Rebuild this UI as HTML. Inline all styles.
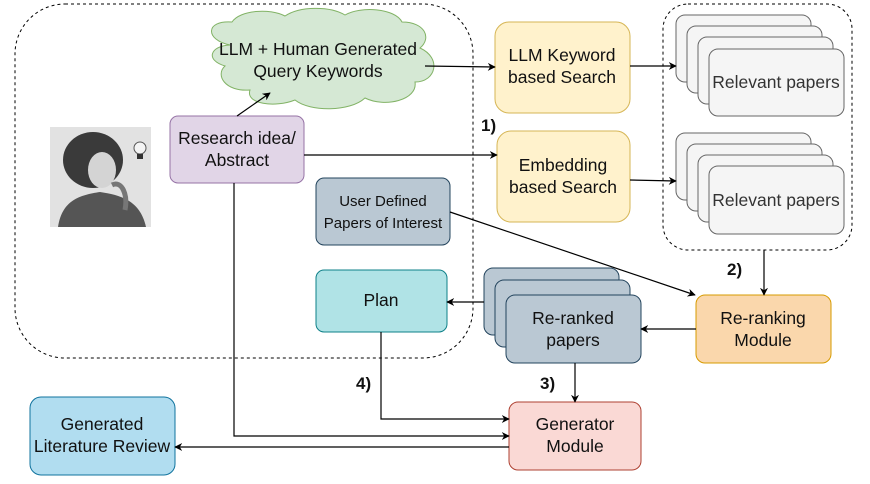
<!DOCTYPE html>
<html><head><meta charset="utf-8"><style>
html,body{margin:0;padding:0;background:#fff}
svg{display:block}
text{font-family:"Liberation Sans",Arial,sans-serif;fill:#111}
</style></head><body>
<svg width="870" height="484" viewBox="0 0 870 484" xmlns="http://www.w3.org/2000/svg">
<defs>
<marker id="a" viewBox="0 0 10 10" refX="9" refY="5" markerWidth="8" markerHeight="8" orient="auto" markerUnits="userSpaceOnUse"><path d="M0,0 L10,5 L0,10 L3,5 z" fill="#000"/></marker>
</defs>
<rect x="15" y="4" width="458" height="354" rx="50" fill="none" stroke="#000" stroke-dasharray="3,3"/>
<rect x="663" y="4" width="189" height="246" rx="25" fill="none" stroke="#000" stroke-dasharray="3,3"/>

<!-- portrait -->
<rect x="50" y="127" width="101" height="100" fill="#e2e2e2"/>
<path d="M58,227 C62,200 80,195 100,192 C120,195 140,200 146,227 Z" fill="#555"/>
<ellipse cx="93" cy="160" rx="30" ry="28" fill="#3a3a3a"/>
<ellipse cx="102" cy="170" rx="14" ry="18" fill="#d4d4d4"/>
<path d="M112,185 C122,180 128,195 125,210" stroke="#777" stroke-width="5" fill="none"/>
<circle cx="140" cy="148" r="6" fill="#f4f4f4" stroke="#555"/>
<rect x="137" y="154" width="6" height="5" fill="#333"/>

<path d="M230,45 C205,40 205,20 232,22 C240,10 270,8 285,16 C300,6 330,6 345,15 C360,6 395,8 402,22 C425,22 432,38 420,48 C442,58 436,82 415,82 C418,100 385,108 365,98 C350,112 310,112 295,100 C275,108 245,104 250,90 C225,92 215,75 225,66 C205,60 210,46 230,45 Z" fill="#d5e8d4" stroke="#82b366"/>
<text x="318" y="55" font-size="17.5" text-anchor="middle">LLM + Human Generated</text>
<text x="318" y="77" font-size="17.5" text-anchor="middle">Query Keywords</text>

<rect x="170" y="116" width="134" height="67" rx="8" fill="#e1d5e7" stroke="#9673a6"/>
<text x="237" y="144" font-size="17.5" text-anchor="middle">Research idea/</text>
<text x="237" y="166" font-size="17.5" text-anchor="middle">Abstract</text>

<rect x="316" y="178" width="134" height="67" rx="8" fill="#bac8d3" stroke="#23445d"/>
<text x="383" y="206" font-size="15" text-anchor="middle">User Defined</text>
<text x="383" y="228" font-size="15" text-anchor="middle">Papers of Interest</text>

<rect x="495" y="22" width="135" height="91" rx="14" fill="#fff2cc" stroke="#d6b656"/>
<text x="562" y="61" font-size="17.5" text-anchor="middle">LLM Keyword</text>
<text x="562" y="83" font-size="17.5" text-anchor="middle">based Search</text>
<rect x="497" y="131" width="133" height="91" rx="14" fill="#fff2cc" stroke="#d6b656"/>
<text x="563" y="171" font-size="17.5" text-anchor="middle">Embedding</text>
<text x="563" y="193" font-size="17.5" text-anchor="middle">based Search</text>
<text x="481" y="131" font-size="17" font-weight="bold">1)</text>

<g fill="#f5f5f5" stroke="#666">
<rect x="676" y="15" width="135" height="67" rx="9"/>
<rect x="687" y="26" width="135" height="67" rx="9"/>
<rect x="698" y="37" width="135" height="67" rx="9"/>
<rect x="709" y="49" width="135" height="67" rx="9"/>
<rect x="676" y="133" width="135" height="67" rx="9"/>
<rect x="687" y="144" width="135" height="67" rx="9"/>
<rect x="698" y="155" width="135" height="67" rx="9"/>
<rect x="709" y="166" width="135" height="68" rx="9"/>
</g>
<text x="776" y="88" font-size="17.5" text-anchor="middle" style="fill:#333">Relevant papers</text>
<text x="776" y="206" font-size="17.5" text-anchor="middle" style="fill:#333">Relevant papers</text>

<rect x="696" y="295" width="135" height="68" rx="9" fill="#fad7ac" stroke="#d79b00"/>
<text x="763" y="324" font-size="17.5" text-anchor="middle">Re-ranking</text>
<text x="763" y="346" font-size="17.5" text-anchor="middle">Module</text>
<text x="727" y="275" font-size="17" font-weight="bold">2)</text>

<g fill="#bac8d3" stroke="#23445d">
<rect x="484" y="268" width="135" height="67" rx="9"/>
<rect x="495" y="280" width="135" height="67" rx="9"/>
<rect x="506" y="295" width="135" height="68" rx="9"/>
</g>
<text x="573" y="324" font-size="17.5" text-anchor="middle">Re-ranked</text>
<text x="573" y="346" font-size="17.5" text-anchor="middle">papers</text>

<rect x="316" y="270" width="131" height="62" rx="8" fill="#b0e3e6" stroke="#0e8088"/>
<text x="381" y="306" font-size="17.5" text-anchor="middle">Plan</text>

<rect x="509" y="402" width="132" height="68" rx="9" fill="#fad9d5" stroke="#ae4132"/>
<text x="575" y="430" font-size="17.5" text-anchor="middle">Generator</text>
<text x="575" y="452" font-size="17.5" text-anchor="middle">Module</text>

<rect x="30" y="397" width="145" height="78" rx="11" fill="#b1ddf0" stroke="#10739e"/>
<text x="102" y="430" font-size="17.5" text-anchor="middle">Generated</text>
<text x="102" y="452" font-size="17.5" text-anchor="middle">Literature Review</text>

<text x="356" y="389" font-size="17" font-weight="bold">4)</text>
<text x="540" y="389" font-size="17" font-weight="bold">3)</text>

<g stroke="#000" stroke-width="1.2" fill="none" marker-end="url(#a)">
<line x1="425" y1="66" x2="495" y2="67"/>
<line x1="237" y1="116" x2="270" y2="93"/>
<line x1="304" y1="155" x2="497" y2="155"/>
<line x1="630" y1="66" x2="676" y2="66"/>
<line x1="630" y1="180" x2="676" y2="181"/>
<line x1="450" y1="212" x2="695" y2="295"/>
<line x1="764" y1="250" x2="764" y2="295"/>
<line x1="696" y1="329" x2="641" y2="329"/>
<line x1="484" y1="302" x2="447" y2="302"/>
<line x1="575" y1="363" x2="575" y2="402"/>
<polyline points="381,332 381,419 509,419"/>
<polyline points="234,183 234,436 509,436"/>
<line x1="509" y1="447" x2="175" y2="447"/>
</g>
</svg>
</body></html>
